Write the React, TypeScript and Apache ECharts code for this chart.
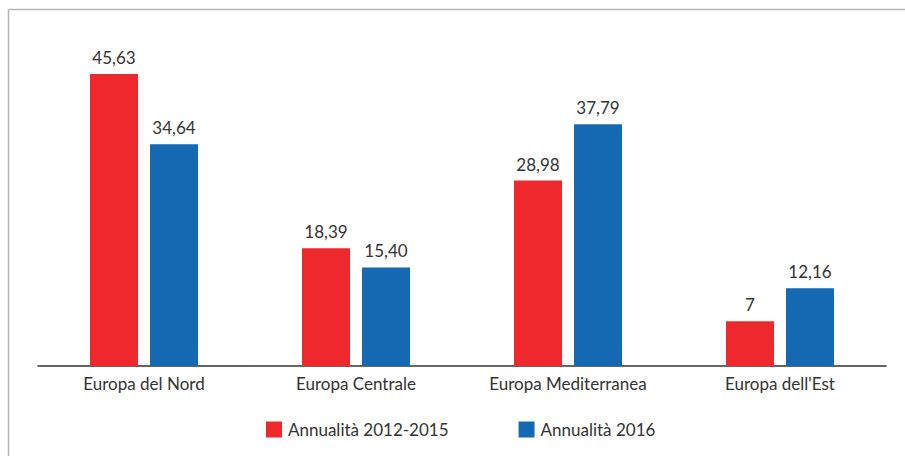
import React, { useEffect, useRef } from "react";
import * as echarts from "echarts";

const categories = ["Europa del Nord", "Europa Centrale", "Europa Mediterranea", "Europa dell'Est"];
const seriesNames = ["Annualità 2012-2015", "Annualità 2016"];
const values2012 = [45.63, 18.39, 28.98, 7];
const values2016 = [34.64, 15.4, 37.79, 12.16];
const colors = ["#EE282D", "#1569B3"];

const fmt = (v: number) => (Number.isInteger(v) ? String(v) : v.toFixed(2).replace(".", ","));

export default function App() {
  const ref = useRef<HTMLDivElement>(null);
  useEffect(() => {
    const chart = echarts.init(ref.current!, null, { renderer: "svg" });
    const font = "Lato, 'Open Sans', sans-serif";
    chart.setOption({
      animation: false,
      backgroundColor: "#ffffff",
      textStyle: { fontFamily: font },
      graphic: [
        { type: "line", shape: { x1: 8.5, y1: 9.5, x2: 905, y2: 9.5 }, style: { stroke: "#b4b4b4", lineWidth: 1.5 } },
        { type: "line", shape: { x1: 8.5, y1: 9.5, x2: 8.5, y2: 456 }, style: { stroke: "#b4b4b4", lineWidth: 1.5 } },
      ],
      grid: { left: 38, right: 19, top: 46, bottom: 90, containLabel: false },
      legend: {
        left: 261,
        top: 416,
        itemWidth: 16,
        itemHeight: 16,
        itemGap: 70,
        icon: "rect",
        textStyle: { fontSize: 17, color: "#333", fontFamily: font, padding: [0, 0, 0, 1] },
        data: seriesNames,
      },
      xAxis: {
        type: "category",
        data: categories,
        axisLine: { lineStyle: { color: "#333", width: 1.5 } },
        axisTick: { show: false },
        axisLabel: { fontSize: 17, color: "#333", margin: 9, fontFamily: font },
      },
      yAxis: {
        type: "value",
        min: 0,
        max: 50,
        show: false,
        splitLine: { show: false },
      },
      series: [
        {
          name: seriesNames[0],
          type: "bar",
          data: values2012,
          barWidth: 48,
          barGap: "25%",
          itemStyle: { color: colors[0] },
          label: { show: true, position: "top", distance: 8, fontSize: 17, color: "#333", fontFamily: font, formatter: (p: any) => fmt(p.value) },
        },
        {
          name: seriesNames[1],
          type: "bar",
          data: values2016,
          barWidth: 48,
          barGap: "25%",
          itemStyle: { color: colors[1] },
          label: { show: true, position: "top", distance: 8, fontSize: 17, color: "#333", fontFamily: font, formatter: (p: any) => fmt(p.value) },
        },
      ],
    });
    return () => chart.dispose();
  }, []);
  return <div ref={ref} style={{ width: 905, height: 456, position: "absolute", left: 0, top: 0 }} />;
}
